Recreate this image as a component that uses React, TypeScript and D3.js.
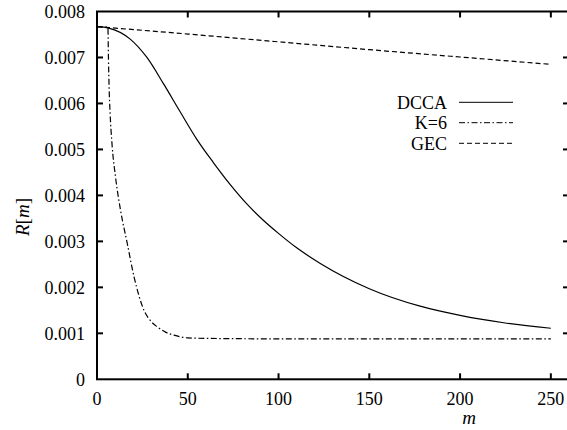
import React from "react";
import * as d3 from "d3";

const xTicks = [0, 50, 100, 150, 200, 250];
const yTicks = [0, 0.001, 0.002, 0.003, 0.004, 0.005, 0.006, 0.007, 0.008];
const yTickLabels = ["0", "0.001", "0.002", "0.003", "0.004", "0.005", "0.006", "0.007", "0.008"];

const dccaM = [0, 6.4, 18.3, 27.5, 36.6, 45.8, 55, 64, 73.3, 82.4, 91.6, 99.8, 110, 123, 150, 178, 200, 224, 250];
const dccaV = [0.00767, 0.00764, 0.0074, 0.0070, 0.00643, 0.00582, 0.00522, 0.00472, 0.00424, 0.00382, 0.00346, 0.00318, 0.00286, 0.00252, 0.00197, 0.00159, 0.00139, 0.00123, 0.00111];

const k6M = [0, 6, 6.3, 6.7, 7.2, 8.3, 10.2, 13, 16.7, 20.4, 25.9, 30, 33.2, 38, 42.4, 50, 60, 100, 250];
const k6V = [0.00767, 0.00766, 0.0070, 0.0063, 0.0058, 0.0051, 0.0044, 0.00367, 0.00295, 0.00223, 0.0015, 0.00125, 0.00114, 0.00102, 0.00096, 0.0009, 0.00089, 0.00088, 0.00088];

const gecM = [0, 50, 100, 150, 200, 250];
const gecV = [0.00767, 0.00751, 0.00734, 0.00717, 0.00701, 0.00685];

const seriesNames = ["DCCA", "K=6", "GEC"];

const FONT = "Liberation Serif, Times New Roman, Times, DejaVu Serif, Noto Serif, FreeSerif, serif";

export default function App() {
  const left = 97, right = 569, top = 11.5, bottom = 379.3;
  const x = d3.scaleLinear().domain([0, 260]).range([left, right]);
  const y = d3.scaleLinear().domain([0, 0.008]).range([bottom, top]);
  const line = d3.line<[number, number]>().x(d => x(d[0])).y(d => y(d[1])).curve(d3.curveMonotoneX);
  const zip = (a: number[], b: number[]) => a.map((m, i) => [m, b[i]] as [number, number]);

  const series = [
    { name: seriesNames[0], data: zip(dccaM, dccaV), dash: "none" },
    { name: seriesNames[1], data: zip(k6M, k6V), dash: "6,2.5,1.5,2.5" },
    { name: seriesNames[2], data: zip(gecM, gecV), dash: "5,3" },
  ];
  const legendY = [102.3, 122.7, 143.3];
  const tickLen = 6;
  const ts = { fontFamily: FONT, fontSize: 18 } as React.CSSProperties;

  return (
    <svg width={567} height={430} style={{ position: "absolute", left: 0, top: 0, background: "#fff", fontFamily: FONT }}>
      <rect x={0} y={0} width={567} height={430} fill="#fff" />
      {series.map(s => (
        <path key={s.name} d={line(s.data) || ""} fill="none" stroke="#000" strokeWidth={1.2}
          strokeDasharray={s.dash} />
      ))}
      <rect x={left} y={top} width={right - left} height={bottom - top} fill="none" stroke="#000" strokeWidth={2} />
      {yTicks.map((v, i) => (
        <g key={"y" + i}>
          {i > 0 && i < yTicks.length - 1 && (
            <>
              <line x1={left} x2={left + tickLen} y1={y(v)} y2={y(v)} stroke="#000" strokeWidth={2} />
              <line x1={right} x2={right - tickLen} y1={y(v)} y2={y(v)} stroke="#000" strokeWidth={2} />
            </>
          )}
          <text x={85} y={y(v)} dy="0.35em" textAnchor="end" style={ts}>{yTickLabels[i]}</text>
        </g>
      ))}
      {xTicks.map((v, i) => (
        <g key={"x" + i}>
          {i > 0 && (
            <>
              <line x1={x(v)} x2={x(v)} y1={bottom} y2={bottom - tickLen} stroke="#000" strokeWidth={2} />
              <line x1={x(v)} x2={x(v)} y1={top} y2={top + tickLen} stroke="#000" strokeWidth={2} />
            </>
          )}
          <text x={x(v)} y={399} dy="0.35em" textAnchor="middle" style={ts}>{v}</text>
        </g>
      ))}
      <text x={469} y={424} textAnchor="middle" style={{ ...ts, fontSize: 19, fontStyle: "italic" }}>m</text>
      <text transform="translate(29,217) rotate(-90)" textAnchor="middle" style={{ ...ts, fontSize: 19 }}>
        <tspan fontStyle="italic">R</tspan><tspan>[</tspan><tspan fontStyle="italic">m</tspan><tspan>]</tspan>
      </text>
      {series.map((s, i) => (
        <g key={"lg" + i}>
          <text x={447} y={legendY[i]} dy="0.35em" textAnchor="end" style={ts}>{s.name}</text>
          <line x1={459} x2={513} y1={legendY[i]} y2={legendY[i]} stroke="#000" strokeWidth={1}
            strokeDasharray={s.dash} />
        </g>
      ))}
    </svg>
  );
}
